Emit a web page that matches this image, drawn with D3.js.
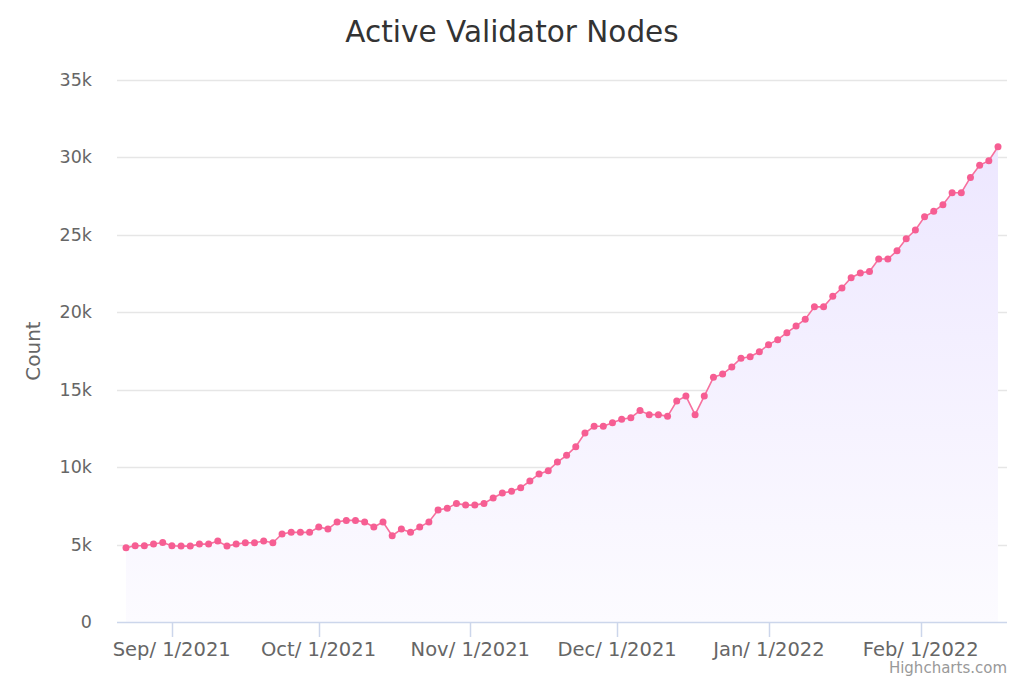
<!DOCTYPE html>
<html>
<head>
<meta charset="utf-8">
<script src="https://cdn.jsdelivr.net/npm/d3@7"></script>
<style>
  body { margin: 0; background: #fff; }
  svg { font-family: "DejaVu Sans", sans-serif; }
</style>
</head>
<body>
<div id="chart"></div>
<script>
// sample times
var dates = [
  "2021-08-22T16:00", "2021-08-24T13:00", "2021-08-26T10:00", "2021-08-28T07:00", "2021-08-30T04:00",
  "2021-09-01T01:00", "2021-09-02T22:00", "2021-09-04T19:00", "2021-09-06T16:00", "2021-09-08T13:00",
  "2021-09-10T10:00", "2021-09-12T07:00", "2021-09-14T04:00", "2021-09-16T01:00", "2021-09-17T22:00",
  "2021-09-19T19:00", "2021-09-21T16:00", "2021-09-23T13:00", "2021-09-25T10:00", "2021-09-27T07:00",
  "2021-09-29T04:00", "2021-10-01T01:00", "2021-10-02T22:00", "2021-10-04T19:00", "2021-10-06T16:00",
  "2021-10-08T13:00", "2021-10-10T10:00", "2021-10-12T07:00", "2021-10-14T04:00", "2021-10-16T01:00",
  "2021-10-17T22:00", "2021-10-19T19:00", "2021-10-21T16:00", "2021-10-23T13:00", "2021-10-25T10:00",
  "2021-10-27T07:00", "2021-10-29T04:00", "2021-10-31T01:00", "2021-11-01T22:00", "2021-11-03T19:00",
  "2021-11-05T16:00", "2021-11-07T13:00", "2021-11-09T10:00", "2021-11-11T07:00", "2021-11-13T04:00",
  "2021-11-15T01:00", "2021-11-16T22:00", "2021-11-18T19:00", "2021-11-20T16:00", "2021-11-22T13:00",
  "2021-11-24T10:00", "2021-11-26T07:00", "2021-11-28T04:00", "2021-11-30T01:00", "2021-12-01T22:00",
  "2021-12-03T19:00", "2021-12-05T16:00", "2021-12-07T13:00", "2021-12-09T10:00", "2021-12-11T07:00",
  "2021-12-13T04:00", "2021-12-15T01:00", "2021-12-16T22:00", "2021-12-18T19:00", "2021-12-20T16:00",
  "2021-12-22T13:00", "2021-12-24T10:00", "2021-12-26T07:00", "2021-12-28T04:00", "2021-12-30T01:00",
  "2021-12-31T22:00", "2022-01-02T19:00", "2022-01-04T16:00", "2022-01-06T13:00", "2022-01-08T10:00",
  "2022-01-10T07:00", "2022-01-12T04:00", "2022-01-14T01:00", "2022-01-15T22:00", "2022-01-17T19:00",
  "2022-01-19T16:00", "2022-01-21T13:00", "2022-01-23T10:00", "2022-01-25T07:00", "2022-01-27T04:00",
  "2022-01-29T01:00", "2022-01-30T22:00", "2022-02-01T19:00", "2022-02-03T16:00", "2022-02-05T13:00",
  "2022-02-07T10:00", "2022-02-09T07:00", "2022-02-11T04:00", "2022-02-13T01:00", "2022-02-14T22:00",
  "2022-02-16T19:00"
];

// active validator count
var counts = [
  4800, 4920, 4920, 5040, 5130, 4920, 4900, 4900, 5030, 5030,
  5230, 4900, 5030, 5120, 5120, 5230, 5120, 5680, 5790, 5790,
  5790, 6130, 6000, 6460, 6560, 6560, 6460, 6130, 6460, 5570,
  6000, 5790, 6130, 6460, 7230, 7340, 7660, 7550, 7550, 7660,
  8010, 8330, 8440, 8670, 9100, 9560, 9770, 10330, 10760, 11320,
  12200, 12640, 12640, 12870, 13090, 13190, 13650, 13390, 13390, 13280,
  14270, 14590, 13390, 14590, 15800, 16010, 16470, 17030, 17130, 17450,
  17910, 18230, 18680, 19110, 19550, 20350, 20350, 21030, 21570, 22230,
  22540, 22640, 23440, 23440, 23970, 24750, 25310, 26170, 26520, 26950,
  27720, 27720, 28710, 29490, 29790, 30690
];

var yTicks = [0, 5000, 10000, 15000, 20000, 25000, 30000, 35000];
var xTicks = ["2021-09-01", "2021-10-01", "2021-11-01", "2021-12-01", "2022-01-01", "2022-02-01"];

var W = 1024, H = 683;
var plotLeft = 117, plotRight = 1007, plotTop = 80, plotBottom = 622;
var pad = 9; // space between axis ends and first/last point

var parse = d3.isoParse;
var data = dates.map(function(d, i){ return {date: parse(d), value: counts[i]}; });

var svg = d3.select("#chart").append("svg")
    .attr("width", W)
    .attr("height", H);

var x = d3.scaleTime()
    .domain(d3.extent(data, function(d){ return d.date; }))
    .range([plotLeft + pad, plotRight - pad]);

var y = d3.scaleLinear()
    .domain([0, 35000])
    .range([plotBottom, plotTop]);

var defs = svg.append("defs");
var grad = defs.append("linearGradient")
    .attr("id", "fillGrad")
    .attr("x1", 0).attr("y1", 0).attr("x2", 0).attr("y2", 1);
grad.append("stop").attr("offset", "0%").attr("stop-color", "#ede7ff");
grad.append("stop").attr("offset", "100%").attr("stop-color", "#fcfbff");

// grid lines
svg.append("g").selectAll("line")
    .data(yTicks.filter(function(t){ return t > 0; }))
    .enter().append("line")
    .attr("x1", plotLeft)
    .attr("x2", plotRight)
    .attr("y1", function(d){ return Math.round(y(d)) + 0.5; })
    .attr("y2", function(d){ return Math.round(y(d)) + 0.5; })
    .attr("stroke", "#e6e6e6")
    .attr("stroke-width", 1.5);

// y labels
svg.append("g").selectAll("text")
    .data(yTicks)
    .enter().append("text")
    .attr("x", 92)
    .attr("y", function(d){ return y(d) + 6; })
    .attr("text-anchor", "end")
    .attr("fill", "#666666")
    .style("font-size", "17.5px")
    .text(function(d){ return d === 0 ? "0" : (d / 1000) + "k"; });

// area
var area = d3.area()
    .x(function(d){ return x(d.date); })
    .y0(plotBottom)
    .y1(function(d){ return y(d.value); });

svg.append("path")
    .datum(data)
    .attr("d", area)
    .attr("fill", "url(#fillGrad)");

// x axis line and ticks
svg.append("line")
    .attr("x1", plotLeft).attr("x2", plotRight)
    .attr("y1", plotBottom + 0.5).attr("y2", plotBottom + 0.5)
    .attr("stroke", "#ccd6eb")
    .attr("stroke-width", 1.5);

var fmt = d3.timeFormat("%b/ %-d/%Y");
var xg = svg.append("g");
xg.selectAll("line")
    .data(xTicks)
    .enter().append("line")
    .attr("x1", function(d){ return Math.round(x(parse(d))) + 0.5; })
    .attr("x2", function(d){ return Math.round(x(parse(d))) + 0.5; })
    .attr("y1", plotBottom)
    .attr("y2", plotBottom + 15)
    .attr("stroke", "#ccd6eb")
    .attr("stroke-width", 1.5);

xg.selectAll("text")
    .data(xTicks)
    .enter().append("text")
    .attr("x", function(d){ return x(parse(d)); })
    .attr("y", plotBottom + 34)
    .attr("text-anchor", "middle")
    .attr("fill", "#666666")
    .style("font-size", "19.5px")
    .text(function(d){ return fmt(parse(d)); });

// line
var line = d3.line()
    .x(function(d){ return x(d.date); })
    .y(function(d){ return y(d.value); });

svg.append("path")
    .datum(data)
    .attr("d", line)
    .attr("fill", "none")
    .attr("stroke", "#f7709e")
    .attr("stroke-width", 1.6);

svg.append("g").selectAll("circle")
    .data(data)
    .enter().append("circle")
    .attr("cx", function(d){ return x(d.date); })
    .attr("cy", function(d){ return y(d.value); })
    .attr("r", 3.5)
    .attr("fill", "#f65e93");

// title
svg.append("text")
    .attr("x", W / 2)
    .attr("y", 42)
    .attr("text-anchor", "middle")
    .attr("fill", "#333333")
    .style("font-size", "29.5px")
    .text("Active Validator Nodes");

// y axis title
svg.append("text")
    .attr("transform", "translate(40," + ((plotTop + plotBottom) / 2) + ") rotate(-90)")
    .attr("text-anchor", "middle")
    .attr("fill", "#666666")
    .style("font-size", "20px")
    .text("Count");

// credits
svg.append("text")
    .attr("x", plotRight)
    .attr("y", 673)
    .attr("text-anchor", "end")
    .attr("fill", "#999999")
    .style("font-size", "15px")
    .text("Highcharts.com");
</script>
</body>
</html>
